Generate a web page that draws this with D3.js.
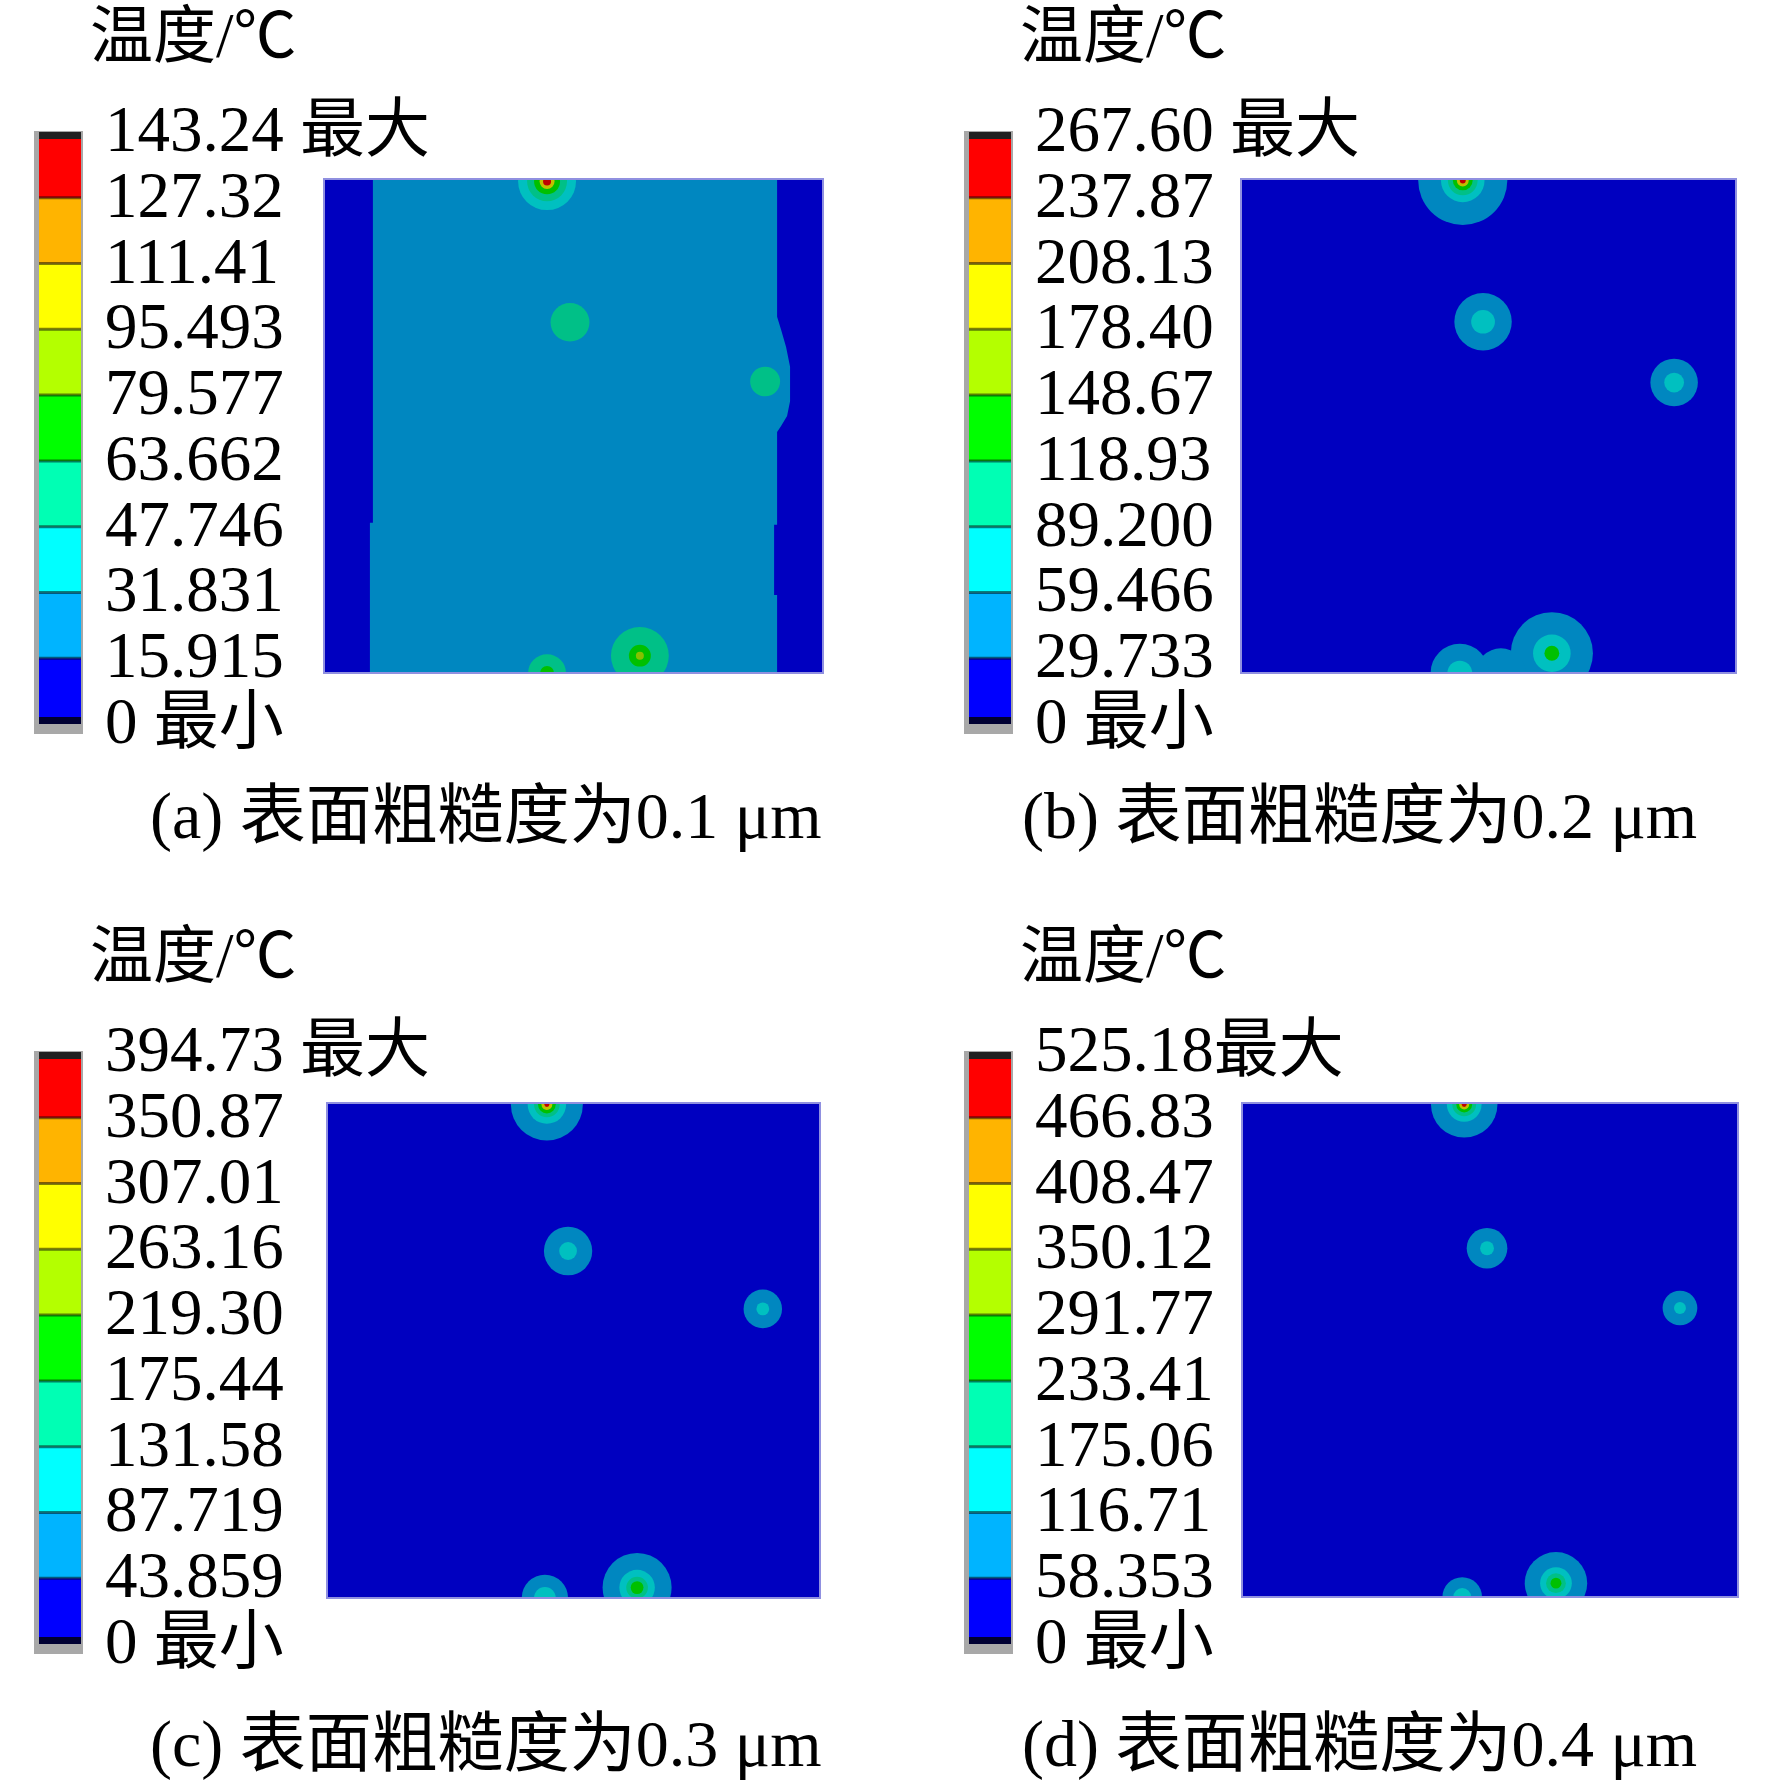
<!DOCTYPE html>
<html>
<head>
<meta charset="utf-8">
<script src="https://cdn.jsdelivr.net/npm/d3@7"></script>
<style>
  body { margin: 0; background: #fff; }
  text { font-family: "Liberation Serif", "Times New Roman", "Noto Sans CJK SC", serif; fill: #000; }
</style>
</head>
<body>
<div id="chart"></div>
<script>
var width = 1772;
var height = 1789;

// legend / caption text
var captions = ["(a) 表面粗糙度为0.1 μm", "(b) 表面粗糙度为0.2 μm", "(c) 表面粗糙度为0.3 μm", "(d) 表面粗糙度为0.4 μm"];
var maxSuffix = [" 最大", " 最大", " 最大", "最大"];
var minSuffix = " 最小";
var unitTitle = "温度/℃";

var ticksA = ["143.24", "127.32", "111.41", "95.493", "79.577", "63.662", "47.746", "31.831", "15.915", "0"];
var ticksB = ["267.60", "237.87", "208.13", "178.40", "148.67", "118.93", "89.200", "59.466", "29.733", "0"];
var ticksC = ["394.73", "350.87", "307.01", "263.16", "219.30", "175.44", "131.58", "87.719", "43.859", "0"];
var ticksD = ["525.18", "466.83", "408.47", "350.12", "291.77", "233.41", "175.06", "116.71", "58.353", "0"];

// contour band colours, lowest band first
var bandColors = ["#0000ff", "#00b4ff", "#00ffff", "#00ffb4", "#00ff00", "#b4ff00", "#ffff00", "#ffb400", "#ff0000"];

// hot spots on the 100 x 100 surface: [x, y, [[band, radius], ...]]
var spotsA = [
  [44.7, 0.5, [[2, 5.8], [3, 4.0], [4, 2.6], [6, 1.5], [8, 0.8]]],
  [49.3, 29.0, [[3, 3.9]]],
  [88.4, 41.0, [[3, 3.0]]],
  [63.3, 96.5, [[3, 5.8], [4, 2.2], [5, 0.8]]],
  [44.7, 100, [[3, 3.8], [4, 1.4]]]
];
var spotsB = [
  [44.8, 0.3, [[1, 9.0], [2, 4.4], [3, 3.0], [4, 2.0], [6, 1.2], [8, 0.6]]],
  [48.9, 28.9, [[1, 5.8], [2, 2.4]]],
  [87.5, 41.2, [[1, 4.8], [2, 2.0]]],
  [62.8, 96.0, [[1, 8.3], [2, 3.8], [4, 1.5]]],
  [52.5, 100, [[1, 5.0]]],
  [44.2, 100, [[1, 5.9], [2, 2.5]]]
];
var spotsC = [
  [44.6, 0.3, [[1, 7.3], [2, 3.9], [3, 2.6], [4, 1.8], [6, 1.1], [8, 0.5]]],
  [48.9, 29.9, [[1, 4.9], [2, 1.8]]],
  [88.4, 41.6, [[1, 3.9], [2, 1.3]]],
  [62.9, 97.9, [[1, 7.0], [2, 3.6], [3, 2.2], [4, 1.3]]],
  [44.2, 100, [[1, 4.7], [2, 2.2]]]
];
var spotsD = [
  [44.8, 0.3, [[1, 6.7], [2, 3.5], [3, 2.4], [4, 1.6], [6, 1.0], [8, 0.5]]],
  [49.4, 29.4, [[1, 4.1], [2, 1.4]]],
  [88.3, 41.5, [[1, 3.5], [2, 1.2]]],
  [63.3, 97.2, [[1, 6.3], [2, 3.2], [3, 2.0], [4, 1.1]]],
  [44.4, 100, [[1, 4.0], [2, 1.8]]]
];

// cooler side strips of panel (a), outlines on the 100 x 100 surface
var coolLeftA = [[0, 0], [9.8, 0], [9.8, 69.6], [9.2, 69.6], [9.2, 100], [0, 100]];
var coolRightA = [[90.8, 0], [90.8, 27.9], [91.6, 30.5], [92.6, 34], [93.4, 38], [93.4, 45], [92.8, 48], [91.6, 50], [90.8, 51.2],
  [90.8, 70], [90.2, 70], [90.2, 84.2], [90.8, 84.2], [90.8, 100], [100, 100], [100, 0]];

var panels = [
  { ticks: ticksA, spots: spotsA, base: 1, cool: [coolLeftA, coolRightA], dx: 0, dy: 0, capX: 150, capY: 838, plot: [324, 179, 823, 673] },
  { ticks: ticksB, spots: spotsB, base: 0, cool: [], dx: 930, dy: 0, capX: 1022, capY: 838, plot: [1241, 179, 1736, 673] },
  { ticks: ticksC, spots: spotsC, base: 0, cool: [], dx: 0, dy: 920, capX: 150, capY: 1766, plot: [327, 1103, 820, 1598] },
  { ticks: ticksD, spots: spotsD, base: 0, cool: [], dx: 930, dy: 920, capX: 1022, capY: 1766, plot: [1242, 1103, 1738, 1597] }
];

var svg = d3.select("#chart")
  .append("svg")
  .attr("width", width)
  .attr("height", height);

svg.append("rect").attr("width", width).attr("height", height).style("fill", "#fff");

function shade(c) {
  return d3.color(c).darker(0.8).formatHex();
}

panels.forEach(function(p, i) {
  var g = svg.append("g");

  // ---- contour plot ----
  var x = d3.scaleLinear().domain([0, 100]).range([p.plot[0], p.plot[2]]);
  var y = d3.scaleLinear().domain([0, 100]).range([p.plot[1], p.plot[3]]);

  var clipId = "clip" + i;
  svg.append("clipPath").attr("id", clipId)
    .append("rect")
    .attr("x", x(0)).attr("y", y(0))
    .attr("width", x(100) - x(0)).attr("height", y(100) - y(0));

  var field = g.append("g").attr("clip-path", "url(#" + clipId + ")");

  field.append("rect")
    .attr("x", x(0)).attr("y", y(0))
    .attr("width", x(100) - x(0)).attr("height", y(100) - y(0))
    .style("fill", shade(bandColors[p.base]));

  var line = d3.line().x(function(d) { return x(d[0]); }).y(function(d) { return y(d[1]); });
  field.selectAll("path.cool")
    .data(p.cool)
    .enter().append("path")
    .attr("class", "cool")
    .attr("d", function(d) { return line(d) + "Z"; })
    .style("fill", shade(bandColors[0]));

  p.spots.forEach(function(s) {
    field.selectAll(null)
      .data(s[2])
      .enter().append("ellipse")
      .attr("cx", x(s[0]))
      .attr("cy", y(s[1]))
      .attr("rx", function(d) { return x(d[1]) - x(0); })
      .attr("ry", function(d) { return y(d[1]) - y(0); })
      .style("fill", function(d) { return shade(bandColors[d[0]]); });
  });

  g.append("rect")
    .attr("x", x(0)).attr("y", y(0))
    .attr("width", x(100) - x(0)).attr("height", y(100) - y(0))
    .style("fill", "none")
    .style("stroke", "#9090e0")
    .style("stroke-width", 2);

  // ---- colour legend ----
  var vals = p.ticks.map(Number).reverse();
  var cb = d3.scaleLinear().domain([0, vals[vals.length - 1]]).range([724 + p.dy, 132 + p.dy]);
  var barX = 39 + p.dx;
  var barW = 42;

  g.append("rect")
    .attr("x", barX - 5).attr("y", cb.range()[1] - 1)
    .attr("width", barW + 7).attr("height", cb.range()[0] - cb.range()[1] + 11)
    .style("fill", "#a8a8a8");

  g.selectAll("rect.band")
    .data(bandColors)
    .enter().append("rect")
    .attr("class", "band")
    .attr("x", barX)
    .attr("y", function(d, k) { return cb(vals[k + 1]); })
    .attr("width", barW)
    .attr("height", function(d, k) { return cb(vals[k]) - cb(vals[k + 1]); })
    .style("fill", function(d) { return d; });

  g.selectAll("line.sep")
    .data(vals.slice(1, vals.length - 1))
    .enter().append("line")
    .attr("class", "sep")
    .attr("x1", barX).attr("x2", barX + barW)
    .attr("y1", function(d) { return cb(d); })
    .attr("y2", function(d) { return cb(d); })
    .style("stroke", "#000")
    .style("stroke-opacity", 0.5)
    .style("stroke-width", 3);

  g.append("rect")
    .attr("x", barX).attr("y", cb.range()[1])
    .attr("width", barW).attr("height", 7)
    .style("fill", "#222");
  g.append("rect")
    .attr("x", barX).attr("y", cb.range()[0] - 7)
    .attr("width", barW).attr("height", 7)
    .style("fill", "#000033");

  g.selectAll("text.tick")
    .data(p.ticks)
    .enter().append("text")
    .attr("class", "tick")
    .attr("x", 105 + p.dx)
    .attr("y", function(d) { return cb(+d) + 19; })
    .style("font-size", "65px")
    .text(function(d, k) {
      if (k === 0) return d + maxSuffix[i];
      if (k === p.ticks.length - 1) return d + minSuffix;
      return d;
    });

  g.append("text")
    .attr("x", 90 + p.dx)
    .attr("y", 57 + p.dy)
    .style("font-size", "63px")
    .text(unitTitle);

  g.append("text")
    .attr("x", p.capX)
    .attr("y", p.capY)
    .style("font-size", "66px")
    .text(captions[i]);
});
</script>
</body>
</html>
